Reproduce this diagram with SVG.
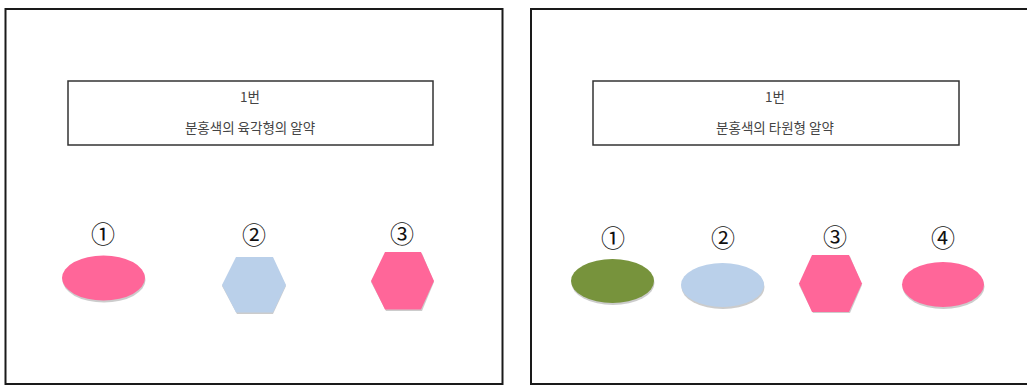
<svg xmlns="http://www.w3.org/2000/svg" width="1027" height="385" viewBox="0 0 1027 385">
<defs>
<style>
.frame{fill:#fff;stroke:#1a1a1a;stroke-width:2}
.box{fill:#fff;stroke:#333;stroke-width:1.5}
.t{font-family:"Noto Sans CJK KR","Noto Sans",sans-serif;font-size:13.5px;fill:#444;text-anchor:middle}
.num{font-family:"Noto Sans CJK KR","DejaVu Sans",sans-serif;font-size:24px;fill:#111;text-anchor:middle}
.pink{fill:#FF6699}
.blue{fill:#BAD0EA}
.green{fill:#77933C}
.sh{fill:#999;opacity:0.5}
</style>
</defs>
<rect width="1027" height="385" fill="#fff"/>
<g id="panel-left">
<rect class="frame" x="5.5" y="9" width="497" height="375"/>
<g id="title-left">
<rect class="box" x="68" y="81" width="365" height="64"/>
<text class="t" x="250" y="102">1번</text>
<text class="t" x="250" y="133">분홍색의 육각형의 알약</text>
</g>
<g id="left-1">
<text class="num" x="103" y="243">①</text>
<ellipse class="sh" cx="104" cy="280" rx="41.5" ry="22.5"/>
<ellipse class="pink" cx="103.5" cy="278" rx="41.5" ry="22.5"/>
</g>
<g id="left-2">
<text class="num" x="254" y="244">②</text>
<polygon class="sh" points="237,258.5 273,258.5 286,286 273,314 237,314 222,286"/>
<polygon class="blue" points="236,257 273,257 286,285 273,312.5 236,312.5 222,285"/>
</g>
<g id="left-3">
<text class="num" x="402" y="243">③</text>
<polygon class="sh" points="386,253.5 422,253.5 434,282 422,311 386,311 371,282"/>
<polygon class="pink" points="385,252 421,252 434,281 421,309.5 385,309.5 371,281"/>
</g>
</g>
<g id="panel-right">
<rect class="frame" x="531" y="9" width="500" height="375"/>
<g id="title-right">
<rect class="box" x="593" y="81" width="366" height="64"/>
<text class="t" x="775" y="102">1번</text>
<text class="t" x="775" y="133">분홍색의 타원형 알약</text>
</g>
<g id="right-1">
<text class="num" x="613" y="247">①</text>
<ellipse class="sh" cx="613" cy="283" rx="41.5" ry="22"/>
<ellipse class="green" cx="612.5" cy="281" rx="41.5" ry="22"/>
</g>
<g id="right-2">
<text class="num" x="723" y="247">②</text>
<ellipse class="sh" cx="723" cy="287" rx="41.5" ry="22"/>
<ellipse class="blue" cx="722.5" cy="285" rx="41.5" ry="22"/>
</g>
<g id="right-3">
<text class="num" x="835" y="246">③</text>
<polygon class="sh" points="813,256.5 850,256.5 862,285 850,313 813,313 799,285"/>
<polygon class="pink" points="812,255 849,255 862,283.5 849,312 812,312 799,283.5"/>
</g>
<g id="right-4">
<text class="num" x="943" y="247">④</text>
<ellipse class="sh" cx="943.5" cy="286.5" rx="41" ry="22.5"/>
<ellipse class="pink" cx="943" cy="284.5" rx="41" ry="22.5"/>
</g>
</g>
<g id="connectors"/>
</svg>
